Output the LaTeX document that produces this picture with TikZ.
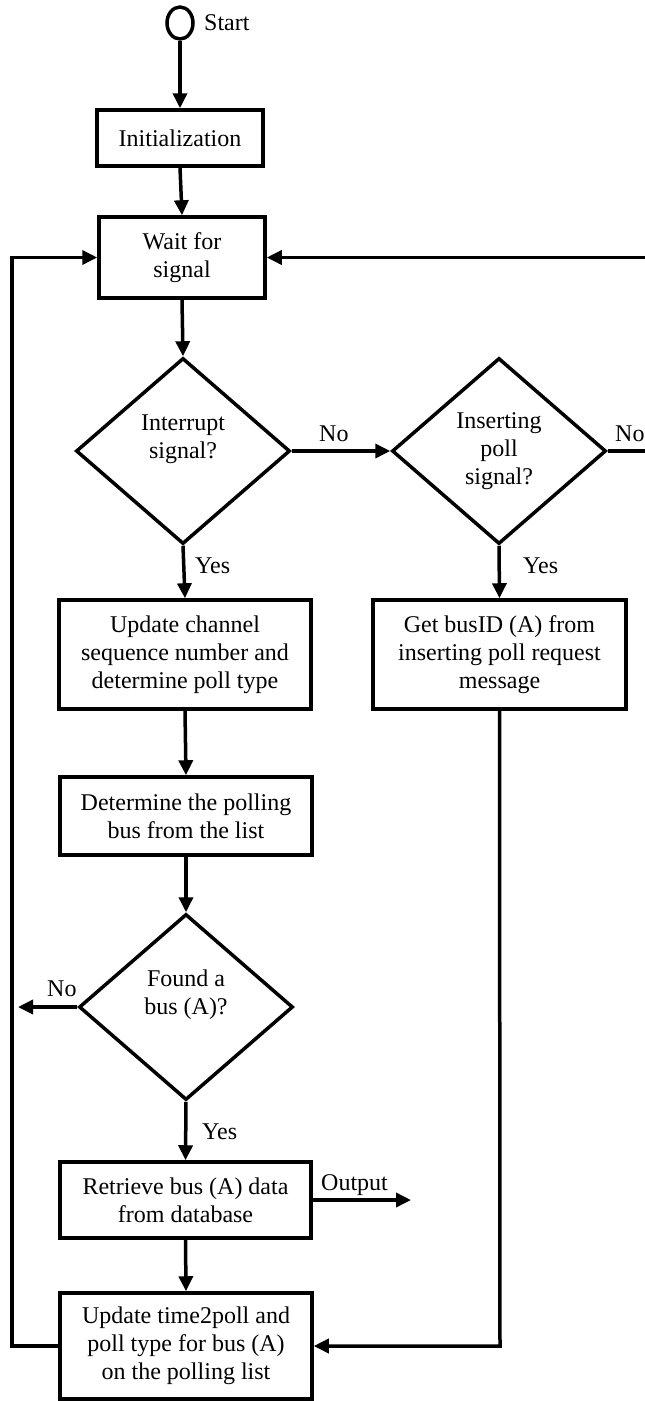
\documentclass[tikz,border=0pt]{standalone}
\usepackage{fontspec}
\setmainfont{Liberation Serif}
\usetikzlibrary{shapes.geometric,arrows.meta}
\begin{document}
\begin{tikzpicture}[x=1pt,y=-1pt,
  every node/.style={font=\fontsize{24}{28}\selectfont},
  box/.style={draw,line width=3.5pt,rectangle,align=center,inner sep=0pt},
  dec/.style={draw,line width=3.5pt,diamond,inner sep=0pt,minimum width=214pt,minimum height=186pt,align=center},
  arr/.style={line width=3.5pt,-{Triangle[length=15pt,width=14pt]}},
  ln/.style={line width=3.5pt},
  lab/.style={inner sep=0pt,anchor=base west}]
\useasboundingbox (0,0) rectangle (645,1401);
\clip (0,0) rectangle (645,1401);

% nodes
\node[draw,line width=3.5pt,ellipse,minimum width=26pt,minimum height=32pt,inner sep=0pt] (start) at (180,23) {};
\node[lab] (startlab) at (204,30) {Start};
\node[box,minimum width=166pt,minimum height=56pt] (init) at (180,138) {Initialization};
\node[box,minimum width=166pt,minimum height=81pt] (wait) at (182,257.5) {Wait for\\signal};
\node[dec,label={[align=center,yshift=12pt]center:Interrupt\\signal?}] (int) at (183,451) {};
\node[dec] (ins) at (499,451) {Inserting\\poll\\signal?};
\node[box,minimum width=252pt,minimum height=109pt] (upd) at (185,654.5) {Update channel\\sequence number and\\determine poll type};
\node[box,minimum width=253pt,minimum height=109pt] (get) at (499.5,654.5) {Get busID (A) from\\inserting poll request\\message};
\node[box,minimum width=252pt,minimum height=78pt] (det) at (186,816) {Determine the polling\\bus from the list};
\node[dec,label={[align=center,yshift=12pt]center:Found a\\bus (A)?}] (found) at (186,1007) {};
\node[box,minimum width=251pt,minimum height=76pt] (ret) at (185.5,1200) {Retrieve bus (A) data\\from database};
\node[box,minimum width=252pt,minimum height=106pt] (tp) at (186,1346) {Update time2poll and\\poll type for bus (A)\\on the polling list};

% labels
\node[lab] (no1) at (319,441) {No};
\node[lab] (no2) at (615,441) {No};
\node[lab] (yes1) at (195,573) {Yes};
\node[lab] (yes2) at (523,573) {Yes};
\node[lab] (no3) at (47,996) {No};
\node[lab] (yes3) at (202,1139) {Yes};
\node[lab] (outlab) at (321,1190) {Output};

% free ends
\coordinate (noend) at (18,1007);
\coordinate (outend) at (411,1200);
\coordinate (rtop) at (665,257.5);
\coordinate (rmid) at (665,451);
\coordinate (ltop) at (12,257.5);
\coordinate (lbot) at (12,1346);
\coordinate (gbot) at (500,1346);

% connectors
\draw[arr] (start.south) -- (init.north);
\draw[arr] (init.south) -- (wait.north);
\draw[arr] (wait.south) -- (int.north);
\draw[arr] (int.east) -- (ins.west);
\draw[arr] (ins.east) -- (rmid) -- (rtop) -- (wait.east);
\draw[arr] (int.south) -- (upd.north);
\draw[arr] (ins.south) -- (get.north);
\draw[arr] (upd.south) -- (det.north);
\draw[arr] (det.south) -- (found.north);
\draw[arr] (found.west) -- (noend);
\draw[arr] (found.south) -- (ret.north);
\draw[arr] (ret.east) -- (outend);
\draw[arr] (ret.south) -- (tp.north);
\draw[arr] (tp.west) -- (lbot) -- (ltop) -- (wait.west);
\draw[arr] (get.south) -- (gbot) -- (tp.east);
\end{tikzpicture}
\end{document}
